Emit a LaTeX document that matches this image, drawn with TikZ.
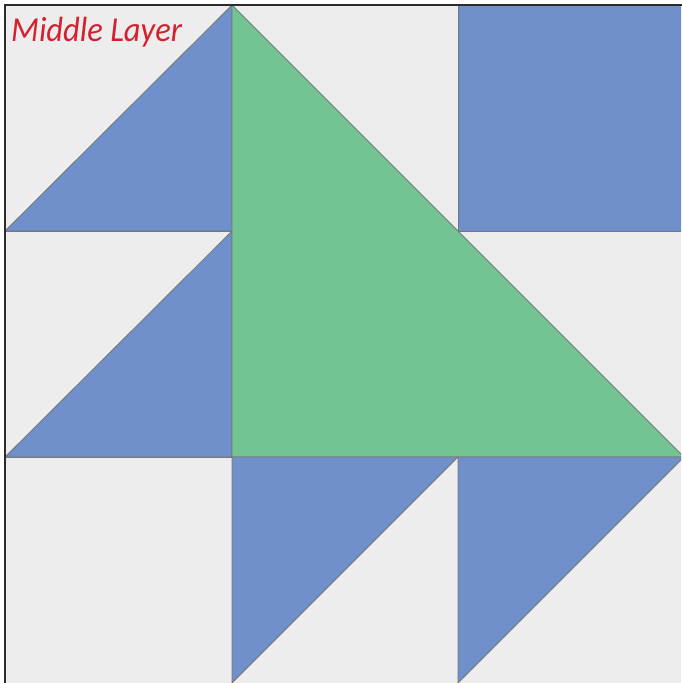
\documentclass[tikz,border=0pt]{standalone}
\usepackage{fontspec}
\newfontfamily\carl[FakeStretch=0.93]{Carlito}
\definecolor{qblue}{HTML}{6F90CB}
\definecolor{qgreen}{HTML}{72C593}
\definecolor{qbg}{HTML}{ECEDEC}
\definecolor{qedge}{HTML}{777777}
\definecolor{qframe}{HTML}{2B2B2B}
\definecolor{qred}{HTML}{D42030}
\begin{document}
\begin{tikzpicture}[x=1pt,y=-1pt,
  patch/.style={draw=qedge,line width=0.8pt,line join=miter},
  bluepatch/.style={patch,fill=qblue},
  greenpatch/.style={patch,fill=qgreen}]
\useasboundingbox (0,0) rectangle (681,683);
\fill[white] (0,0) rectangle (681,683);
\fill[qbg] (5,5) rectangle (681,683);
\begin{scope}
\clip (5,5) rectangle (681,683);
% top-left
\filldraw[bluepatch] (5,231) -- (232,5) -- (232,231) -- cycle;
% middle-left
\filldraw[bluepatch] (5,457) -- (232,231) -- (232,457) -- cycle;
% top-right square
\filldraw[bluepatch] (458,5) rectangle (690,231);
% big green triangle
\filldraw[greenpatch] (232,5) -- (684,457) -- (232,457) -- cycle;
% bottom middle
\filldraw[bluepatch] (232,457) -- (458,457) -- (232,683) -- cycle;
% bottom right
\filldraw[bluepatch] (458,457) -- (684,457) -- (458,683) -- cycle;
% grid edges
\draw[patch] (5,231) -- (232,231);
\draw[patch] (5,457) -- (232,457);
\end{scope}
\draw[qframe,line width=2.2pt] (5,690) -- (5,5) -- (690,5);
\node[anchor=base west,inner sep=0pt,text=qred,font=\carl\itshape\fontsize{35}{35}\selectfont] (title) at (11,41) {Middle Layer};
\end{tikzpicture}
\end{document}
